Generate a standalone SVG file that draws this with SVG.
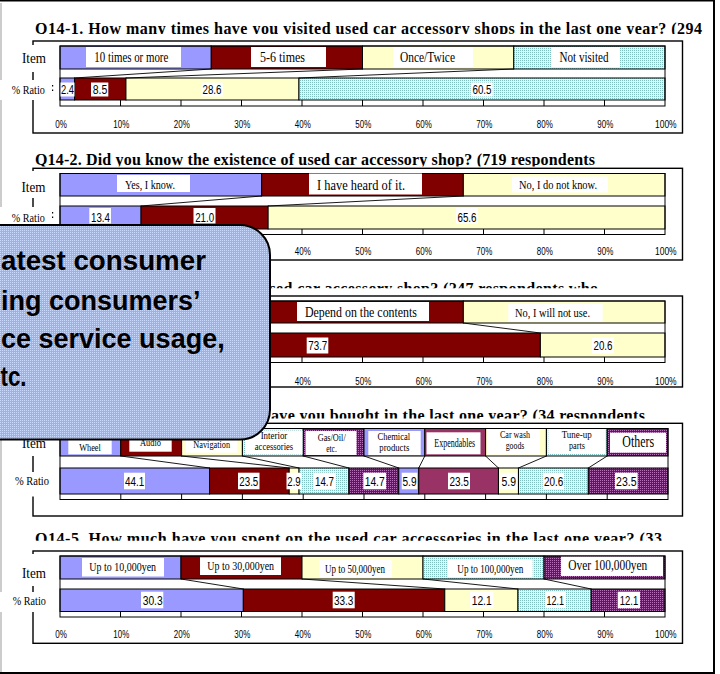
<svg xmlns="http://www.w3.org/2000/svg" width="720" height="674" viewBox="0 0 720 674">
<defs>
<pattern id="pc" width="2" height="2" patternUnits="userSpaceOnUse"><rect width="2" height="2" fill="#CCFFFF"/><rect width="1" height="1" fill="#7FBFBF"/></pattern>
<pattern id="pv" width="2" height="2" patternUnits="userSpaceOnUse"><rect width="2" height="2" fill="#800080"/><rect width="1" height="1" fill="#B870B8"/></pattern>
<pattern id="pb" width="2" height="2" patternUnits="userSpaceOnUse"><rect width="2" height="2" fill="#94B3F7"/><rect width="1" height="1" fill="#C9DAFE"/></pattern>
<clipPath id="c1"><rect x="0" y="0" width="720" height="34"/></clipPath>
<clipPath id="c2"><rect x="0" y="140" width="720" height="26.5"/></clipPath>
<clipPath id="c3"><rect x="0" y="270" width="720" height="18.3"/></clipPath>
<clipPath id="c4"><rect x="0" y="400" width="720" height="18.5"/></clipPath>
<clipPath id="c5"><rect x="0" y="520" width="720" height="20.8"/></clipPath>
</defs>
<style>
.bar{stroke:#000;stroke-width:1}
.b{fill:#9999FF}.r{fill:#800000}.y{fill:#FFFFCC}.p{fill:#993366}.c{fill:url(#pc)}.v{fill:url(#pv)}
.frame{fill:none;stroke:#000;stroke-width:1.4}
.plot{fill:none;stroke:#000;stroke-width:1}
.w{fill:#fff}
.sl{stroke:#000;stroke-width:0.9;fill:none}
.tk{stroke:#000;stroke-width:1}
text{fill:#000}
.t{font-family:"Liberation Serif","Times New Roman",serif;font-weight:bold;font-size:16px}
.s{font-family:"Liberation Serif","Times New Roman",serif;text-anchor:middle}
.n{font-family:"Liberation Sans",Arial,sans-serif;text-anchor:middle;font-size:12.5px}
.ax{font-family:"Liberation Sans",Arial,sans-serif;text-anchor:middle;font-size:11.5px}
.co{font-family:"Liberation Sans",Arial,sans-serif;font-weight:bold;font-size:27px}
</style>

<g id="page">
<line x1="1" y1="3" x2="1" y2="672" stroke="#AAAAAA" stroke-width="1.2"/>
<line x1="0" y1="0.75" x2="715" y2="0.75" stroke="#000" stroke-width="1.5"/>
<line x1="714" y1="0" x2="714" y2="674" stroke="#000" stroke-width="2"/>
<line x1="0" y1="673" x2="715" y2="673" stroke="#000" stroke-width="2"/>
</g>

<!-- Q14-1 -->
<g id="q14-1">
<text class="t" x="35" y="33.5" textLength="667" lengthAdjust="spacing" clip-path="url(#c1)">Q14-1. How many times have you visited used car accessory shops in the last one year? (294</text>
<rect class="frame" x="33" y="41" width="649.5" height="92"/>
<rect class="bar b" x="60" y="46" width="151.25" height="23"/>
<rect class="bar r" x="211.25" y="46" width="151.25" height="23"/>
<rect class="bar y" x="362.5" y="46" width="151.25" height="23"/>
<rect class="bar c" x="513.75" y="46" width="151.25" height="23"/>
<rect class="bar b" x="60" y="78" width="14.52" height="22"/>
<rect class="bar r" x="74.52" y="78" width="51.43" height="22"/>
<rect class="bar y" x="125.95" y="78" width="173.03" height="22"/>
<rect class="bar c" x="298.98" y="78" width="366.02" height="22"/>
<rect class="plot" x="60" y="46" width="605" height="60"/>
<g class="tk"><path d="M120.5 100V106M181 100V106M241.5 100V106M302 100V106M362.5 100V106M423 100V106M483.5 100V106M544 100V106M604.5 100V106"/></g>
<g id="c-q1" class="sl"><line x1="211.25" y1="69" x2="74.52" y2="78"/><line x1="362.5" y1="69" x2="125.95" y2="78"/><line x1="513.75" y1="69" x2="298.98" y2="78"/></g>
<rect class="w" x="86" y="47" width="95" height="20"/><text class="s" x="131.3" y="62" font-size="14" textLength="74" lengthAdjust="spacingAndGlyphs">10 times or more</text>
<rect class="w" x="251" y="47" width="75" height="20"/><text class="s" x="282.5" y="62" font-size="14" textLength="45" lengthAdjust="spacingAndGlyphs">5-6 times</text>
<rect class="w" x="393" y="47" width="80" height="20"/><text class="s" x="427.5" y="62" font-size="14" textLength="55" lengthAdjust="spacingAndGlyphs">Once/Twice</text>
<rect class="w" x="551" y="47" width="69" height="20"/><text class="s" x="584" y="62" font-size="14" textLength="49" lengthAdjust="spacingAndGlyphs">Not visited</text>
<rect class="w" x="60.5" y="82.5" width="14" height="14"/><text class="n" x="67.5" y="94" textLength="13" lengthAdjust="spacingAndGlyphs">2.4</text>
<rect class="w" x="91" y="82.5" width="17.3" height="14"/><text class="n" x="100" y="94" textLength="14.6" lengthAdjust="spacingAndGlyphs">8.5</text>
<rect class="w" x="201" y="82.5" width="21.7" height="14"/><text class="n" x="212" y="94" textLength="19" lengthAdjust="spacingAndGlyphs">28.6</text>
<rect class="w" x="470.7" y="82.5" width="22" height="14"/><text class="n" x="482" y="94" textLength="19" lengthAdjust="spacingAndGlyphs">60.5</text>
<rect class="w" x="20" y="45" width="30" height="27"/><text class="s" x="34" y="63" font-size="15" textLength="24" lengthAdjust="spacingAndGlyphs">Item</text>
<rect class="w" x="0" y="80" width="55" height="20"/><text class="s" x="28.3" y="93.5" font-size="12" textLength="33" lengthAdjust="spacingAndGlyphs">% Ratio</text>
<rect x="52" y="85" width="1.2" height="1.5" fill="#000"/><rect x="52" y="89.5" width="1.2" height="1.5" fill="#000"/>
<g class="ax"><text x="61" y="128" textLength="11.7" lengthAdjust="spacingAndGlyphs">0%</text><text x="121.3" y="128" textLength="16" lengthAdjust="spacingAndGlyphs">10%</text><text x="181.8" y="128" textLength="16" lengthAdjust="spacingAndGlyphs">20%</text><text x="242.3" y="128" textLength="16" lengthAdjust="spacingAndGlyphs">30%</text><text x="302.8" y="128" textLength="16" lengthAdjust="spacingAndGlyphs">40%</text><text x="363.3" y="128" textLength="16" lengthAdjust="spacingAndGlyphs">50%</text><text x="423.8" y="128" textLength="16" lengthAdjust="spacingAndGlyphs">60%</text><text x="484.3" y="128" textLength="16" lengthAdjust="spacingAndGlyphs">70%</text><text x="544.8" y="128" textLength="16" lengthAdjust="spacingAndGlyphs">80%</text><text x="605.3" y="128" textLength="16" lengthAdjust="spacingAndGlyphs">90%</text><text x="665.8" y="128" textLength="21.7" lengthAdjust="spacingAndGlyphs">100%</text></g>
</g>

<!-- Q14-2 -->
<g id="q14-2">
<text class="t" x="35" y="165" textLength="560" lengthAdjust="spacing" clip-path="url(#c2)">Q14-2. Did you know the existence of used car accessory shop? (719 respondents</text>
<rect class="frame" x="33" y="168.3" width="649.5" height="91.7"/>
<rect class="bar b" x="60" y="173.5" width="201.67" height="22.5"/>
<rect class="bar r" x="261.67" y="173.5" width="201.66" height="22.5"/>
<rect class="bar y" x="463.33" y="173.5" width="201.67" height="22.5"/>
<rect class="bar b" x="60" y="206" width="81.07" height="23"/>
<rect class="bar r" x="141.07" y="206" width="127.05" height="23"/>
<rect class="bar y" x="268.12" y="206" width="396.88" height="23"/>
<rect class="plot" x="60" y="173.5" width="605" height="61"/>
<g class="tk"><path d="M120.5 229V234.5M181 229V234.5M241.5 229V234.5M302 229V234.5M362.5 229V234.5M423 229V234.5M483.5 229V234.5M544 229V234.5M604.5 229V234.5"/></g>
<g id="c-q2" class="sl"><line x1="261.67" y1="196" x2="141.07" y2="206"/><line x1="463.33" y1="196" x2="268.12" y2="206"/></g>
<rect class="w" x="117" y="175" width="73" height="17"/><text class="s" x="150" y="188.5" font-size="12.5" textLength="50" lengthAdjust="spacingAndGlyphs">Yes, I know.</text>
<rect class="w" x="309" y="173.5" width="113" height="21"/><text class="s" x="361" y="190" font-size="15" textLength="88" lengthAdjust="spacingAndGlyphs">I have heard of it.</text>
<rect class="w" x="512" y="176.5" width="96" height="16"/><text class="s" x="558" y="188.5" font-size="12.5" textLength="78" lengthAdjust="spacingAndGlyphs">No, I do not know.</text>
<rect class="w" x="89.3" y="208" width="21.7" height="15.5"/><text class="n" x="100.5" y="221.7" textLength="19" lengthAdjust="spacingAndGlyphs">13.4</text>
<rect class="w" x="193.5" y="208" width="22" height="15.5"/><text class="n" x="204.7" y="221.7" textLength="19" lengthAdjust="spacingAndGlyphs">21.0</text>
<rect class="w" x="456" y="208" width="22" height="15.5"/><text class="n" x="467" y="221.7" textLength="19" lengthAdjust="spacingAndGlyphs">65.6</text>
<rect class="w" x="20" y="171" width="30" height="27"/><text class="s" x="33.5" y="191.7" font-size="15" textLength="24" lengthAdjust="spacingAndGlyphs">Item</text>
<rect class="w" x="0" y="207" width="55" height="20"/><text class="s" x="28.3" y="221.7" font-size="12" textLength="33" lengthAdjust="spacingAndGlyphs">% Ratio</text>
<rect x="52" y="212" width="1.2" height="1.5" fill="#000"/><rect x="52" y="216.5" width="1.2" height="1.5" fill="#000"/>
<g class="ax"><text x="302.8" y="255" textLength="16" lengthAdjust="spacingAndGlyphs">40%</text><text x="363.3" y="255" textLength="16" lengthAdjust="spacingAndGlyphs">50%</text><text x="423.8" y="255" textLength="16" lengthAdjust="spacingAndGlyphs">60%</text><text x="484.3" y="255" textLength="16" lengthAdjust="spacingAndGlyphs">70%</text><text x="544.8" y="255" textLength="16" lengthAdjust="spacingAndGlyphs">80%</text><text x="605.3" y="255" textLength="16" lengthAdjust="spacingAndGlyphs">90%</text><text x="665.8" y="255" textLength="21.7" lengthAdjust="spacingAndGlyphs">100%</text></g>
</g>

<!-- Q14-3 -->
<g id="q14-3">
<text class="t" x="269.5" y="294" textLength="328.5" lengthAdjust="spacing" clip-path="url(#c3)">sed car accessory shop? (247 respondents who</text>
<rect class="frame" x="33" y="296" width="649.5" height="91"/>
<rect class="bar b" x="60" y="301" width="201.67" height="22"/>
<rect class="bar r" x="261.67" y="301" width="201.66" height="22"/>
<rect class="bar y" x="463.33" y="301" width="201.67" height="22"/>
<rect class="bar b" x="60" y="333" width="34.49" height="24"/>
<rect class="bar r" x="94.49" y="333" width="445.88" height="24"/>
<rect class="bar y" x="540.37" y="333" width="124.63" height="24"/>
<rect class="plot" x="60" y="301" width="605" height="61.5"/>
<g class="tk"><path d="M120.5 357V362.5M181 357V362.5M241.5 357V362.5M302 357V362.5M362.5 357V362.5M423 357V362.5M483.5 357V362.5M544 357V362.5M604.5 357V362.5"/></g>
<g id="c-q3" class="sl"><line x1="261.67" y1="323" x2="94.49" y2="333"/><line x1="463.33" y1="323" x2="540.37" y2="333"/></g>
<rect class="w" x="297" y="302" width="132" height="19"/><text class="s" x="361" y="317" font-size="14" textLength="112" lengthAdjust="spacingAndGlyphs">Depend on the contents</text>
<rect class="w" x="508.3" y="304" width="94.4" height="17.7"/><text class="s" x="552.5" y="316.5" font-size="12.5" textLength="75" lengthAdjust="spacingAndGlyphs">No, I will not use.</text>
<rect class="w" x="306.7" y="337.5" width="21.6" height="16"/><text class="n" x="317.8" y="350" textLength="19" lengthAdjust="spacingAndGlyphs">73.7</text>
<rect class="w" x="592" y="337.5" width="22" height="16"/><text class="n" x="603" y="350" textLength="19" lengthAdjust="spacingAndGlyphs">20.6</text>
<g class="ax"><text x="302.8" y="385" textLength="16" lengthAdjust="spacingAndGlyphs">40%</text><text x="363.3" y="385" textLength="16" lengthAdjust="spacingAndGlyphs">50%</text><text x="423.8" y="385" textLength="16" lengthAdjust="spacingAndGlyphs">60%</text><text x="484.3" y="385" textLength="16" lengthAdjust="spacingAndGlyphs">70%</text><text x="544.8" y="385" textLength="16" lengthAdjust="spacingAndGlyphs">80%</text><text x="605.3" y="385" textLength="16" lengthAdjust="spacingAndGlyphs">90%</text><text x="665.8" y="385" textLength="21.7" lengthAdjust="spacingAndGlyphs">100%</text></g>
</g>

<!-- Q14-4 -->
<g id="q14-4">
<text class="t" x="271" y="421" textLength="374" lengthAdjust="spacing" clip-path="url(#c4)">ave you bought in the last one year? (34 respondents</text>
<rect class="frame" x="33" y="423.3" width="649.5" height="92.7"/>
<rect class="bar b" x="60" y="428.5" width="60.8" height="27.5"/>
<rect class="bar r" x="120.8" y="428.5" width="60.8" height="27.5"/>
<rect class="bar y" x="181.6" y="428.5" width="60.8" height="27.5"/>
<rect class="bar c" x="242.4" y="428.5" width="60.8" height="27.5"/>
<rect class="bar v" x="303.2" y="428.5" width="60.8" height="27.5"/>
<rect class="bar b" x="364" y="428.5" width="60.8" height="27.5"/>
<rect class="bar p" x="424.8" y="428.5" width="60.8" height="27.5"/>
<rect class="bar y" x="485.6" y="428.5" width="60.8" height="27.5"/>
<rect class="bar c" x="546.4" y="428.5" width="60.8" height="27.5"/>
<rect class="bar v" x="607.2" y="428.5" width="60.8" height="27.5"/>
<rect class="bar b" x="60" y="468" width="149.54" height="26"/>
<rect class="bar r" x="209.54" y="468" width="79.69" height="26"/>
<rect class="bar y" x="289.23" y="468" width="9.84" height="26"/>
<rect class="bar c" x="299.07" y="468" width="49.84" height="26"/>
<rect class="bar v" x="348.91" y="468" width="49.85" height="26"/>
<rect class="bar b" x="398.76" y="468" width="20.01" height="26"/>
<rect class="bar p" x="418.77" y="468" width="79.69" height="26"/>
<rect class="bar y" x="498.46" y="468" width="20" height="26"/>
<rect class="bar c" x="518.46" y="468" width="69.86" height="26"/>
<rect class="bar v" x="588.32" y="468" width="79.68" height="26"/>
<rect class="plot" x="60" y="428.5" width="608" height="71"/>
<g class="tk"><path d="M120.8 494V499.5M181.6 494V499.5M242.4 494V499.5M303.2 494V499.5M364 494V499.5M424.8 494V499.5M485.6 494V499.5M546.4 494V499.5M607.2 494V499.5"/></g>
<g id="c-q4" class="sl"><line x1="120.8" y1="456" x2="209.54" y2="468"/><line x1="181.6" y1="456" x2="289.23" y2="468"/><line x1="242.4" y1="456" x2="299.07" y2="468"/><line x1="303.2" y1="456" x2="348.91" y2="468"/><line x1="364" y1="456" x2="398.76" y2="468"/><line x1="424.8" y1="456" x2="418.77" y2="468"/><line x1="485.6" y1="456" x2="498.46" y2="468"/><line x1="546.4" y1="456" x2="518.46" y2="468"/><line x1="607.2" y1="456" x2="588.32" y2="468"/></g>
<rect class="w" x="68.3" y="433" width="43.4" height="21.3"/><text class="s" x="90" y="450.7" font-size="10" textLength="21.7" lengthAdjust="spacingAndGlyphs">Wheel</text>
<rect class="w" x="129.3" y="433" width="42.4" height="18.7"/><text class="s" x="150.5" y="446" font-size="10" textLength="21" lengthAdjust="spacingAndGlyphs">Audio</text>
<rect class="w" x="186" y="436" width="51.3" height="16.7"/><text class="s" x="211.7" y="448.3" font-size="10" textLength="36.7" lengthAdjust="spacingAndGlyphs">Navigation</text>
<rect class="w" x="245" y="430.5" width="57.5" height="24"/><text class="s" x="274" y="439" font-size="9.5" textLength="26.7" lengthAdjust="spacingAndGlyphs">Interior</text><text class="s" x="274" y="449.5" font-size="9.5" textLength="38.3" lengthAdjust="spacingAndGlyphs">accessories</text>
<rect class="w" x="305.5" y="431" width="51" height="24"/><text class="s" x="331.7" y="440.5" font-size="10" textLength="28" lengthAdjust="spacingAndGlyphs">Gas/Oil/</text><text class="s" x="331.5" y="452" font-size="10" textLength="10.7" lengthAdjust="spacingAndGlyphs">etc.</text>
<rect class="w" x="368.3" y="431" width="52.4" height="24"/><text class="s" x="393.8" y="440" font-size="10" textLength="32.7" lengthAdjust="spacingAndGlyphs">Chemical</text><text class="s" x="394.3" y="451" font-size="10" textLength="30" lengthAdjust="spacingAndGlyphs">products</text>
<rect class="w" x="426.5" y="432.3" width="54" height="22"/><text class="s" x="454.7" y="447" font-size="13" textLength="40.7" lengthAdjust="spacingAndGlyphs">Expendables</text>
<rect class="w" x="487" y="429.5" width="53" height="25"/><text class="s" x="515" y="438.3" font-size="9.5" textLength="30" lengthAdjust="spacingAndGlyphs">Car wash</text><text class="s" x="515" y="449.3" font-size="9.5" textLength="18.7" lengthAdjust="spacingAndGlyphs">goods</text>
<rect class="w" x="548.3" y="429.5" width="56.7" height="24.5"/><text class="s" x="576.7" y="437.7" font-size="9.5" textLength="30" lengthAdjust="spacingAndGlyphs">Tune-up</text><text class="s" x="577" y="449.3" font-size="9.5" textLength="16" lengthAdjust="spacingAndGlyphs">parts</text>
<rect class="w" x="610" y="432.7" width="56" height="20"/><text class="s" x="638.2" y="446.7" font-size="16" textLength="31.7" lengthAdjust="spacingAndGlyphs">Others</text>
<rect class="w" x="124" y="472.7" width="21" height="16.6"/><text class="n" x="134.7" y="486" textLength="19.3" lengthAdjust="spacingAndGlyphs">44.1</text>
<rect class="w" x="238" y="472.7" width="21.5" height="16.6"/><text class="n" x="248.8" y="486" textLength="19" lengthAdjust="spacingAndGlyphs">23.5</text>
<rect class="w" x="286.5" y="472.7" width="15" height="16.6"/><text class="n" x="294" y="486" textLength="13.3" lengthAdjust="spacingAndGlyphs">2.9</text>
<rect class="w" x="313.5" y="472.7" width="22" height="16.6"/><text class="n" x="324.5" y="486" textLength="19" lengthAdjust="spacingAndGlyphs">14.7</text>
<rect class="w" x="363.3" y="472.7" width="22.8" height="16.6"/><text class="n" x="374.7" y="486" textLength="20" lengthAdjust="spacingAndGlyphs">14.7</text>
<rect class="w" x="401.7" y="472.7" width="15.6" height="16.6"/><text class="n" x="409.5" y="486" textLength="14" lengthAdjust="spacingAndGlyphs">5.9</text>
<rect class="w" x="448" y="472.7" width="22" height="16.6"/><text class="n" x="459.2" y="486" textLength="19.5" lengthAdjust="spacingAndGlyphs">23.5</text>
<rect class="w" x="500.3" y="472.7" width="16.7" height="16.6"/><text class="n" x="508.8" y="486" textLength="14.5" lengthAdjust="spacingAndGlyphs">5.9</text>
<rect class="w" x="542.7" y="472.7" width="21.5" height="16.6"/><text class="n" x="553.7" y="486" textLength="19.3" lengthAdjust="spacingAndGlyphs">20.6</text>
<rect class="w" x="615" y="472.7" width="22.7" height="16.6"/><text class="n" x="626.3" y="486" textLength="20.5" lengthAdjust="spacingAndGlyphs">23.5</text>
<rect class="w" x="20" y="430" width="30" height="26"/><text class="s" x="34" y="448" font-size="15" textLength="24" lengthAdjust="spacingAndGlyphs">Item</text>
<rect class="w" x="8" y="472" width="47" height="24.5"/><text class="s" x="32" y="485" font-size="12" textLength="34" lengthAdjust="spacingAndGlyphs">% Ratio</text>
</g>

<!-- Q14-5 -->
<g id="q14-5">
<text class="t" x="35" y="544" textLength="627" lengthAdjust="spacing" clip-path="url(#c5)">Q14-5. How much have you spent on the used car accessories in the last one year? (33</text>
<rect class="frame" x="33" y="551" width="649.5" height="92.3"/>
<rect class="bar b" x="60" y="556" width="121" height="23"/>
<rect class="bar r" x="181" y="556" width="121" height="23"/>
<rect class="bar y" x="302" y="556" width="121" height="23"/>
<rect class="bar c" x="423" y="556" width="121" height="23"/>
<rect class="bar v" x="544" y="556" width="121" height="23"/>
<rect class="bar b" x="60" y="589" width="183.32" height="22.5"/>
<rect class="bar r" x="243.32" y="589" width="201.46" height="22.5"/>
<rect class="bar y" x="444.78" y="589" width="73.21" height="22.5"/>
<rect class="bar c" x="517.99" y="589" width="73.2" height="22.5"/>
<rect class="bar v" x="591.19" y="589" width="73.81" height="22.5"/>
<rect class="plot" x="60" y="556" width="605" height="61"/>
<g class="tk"><path d="M120.5 611.5V617M181 611.5V617M241.5 611.5V617M302 611.5V617M362.5 611.5V617M423 611.5V617M483.5 611.5V617M544 611.5V617M604.5 611.5V617"/></g>
<g id="c-q5" class="sl"><line x1="181" y1="579" x2="243.32" y2="589"/><line x1="302" y1="579" x2="444.78" y2="589"/><line x1="423" y1="579" x2="517.99" y2="589"/><line x1="544" y1="579" x2="591.19" y2="589"/></g>
<rect class="w" x="82" y="558" width="82" height="18.5"/><text class="s" x="122.7" y="570.7" font-size="13" textLength="66.7" lengthAdjust="spacingAndGlyphs">Up to 10,000yen</text>
<rect class="w" x="200" y="557.3" width="81" height="17.7"/><text class="s" x="240.7" y="570" font-size="13" textLength="66.7" lengthAdjust="spacingAndGlyphs">Up to 30,000yen</text>
<rect class="w" x="319.3" y="560" width="72.4" height="17.3"/><text class="s" x="355" y="572.7" font-size="12" textLength="60" lengthAdjust="spacingAndGlyphs">Up to 50,000yen</text>
<rect class="w" x="448" y="560" width="84.7" height="17"/><text class="s" x="490.3" y="572.7" font-size="12" textLength="66" lengthAdjust="spacingAndGlyphs">Up to 100,000yen</text>
<rect class="w" x="561" y="556.7" width="102" height="19.3"/><text class="s" x="607.8" y="570" font-size="15" textLength="79" lengthAdjust="spacingAndGlyphs">Over 100,000yen</text>
<rect class="w" x="141" y="591.7" width="22.3" height="16.6"/><text class="n" x="152.7" y="605" textLength="20" lengthAdjust="spacingAndGlyphs">30.3</text>
<rect class="w" x="332.7" y="591.7" width="22" height="16.6"/><text class="n" x="343.7" y="605" textLength="19.5" lengthAdjust="spacingAndGlyphs">33.3</text>
<rect class="w" x="470" y="591.7" width="23.3" height="16.6"/><text class="n" x="481.7" y="605" textLength="20" lengthAdjust="spacingAndGlyphs">12.1</text>
<rect class="w" x="545" y="591.7" width="20.7" height="16.6"/><text class="n" x="555.3" y="605" textLength="17.5" lengthAdjust="spacingAndGlyphs">12.1</text>
<rect class="w" x="617.7" y="591.7" width="22.3" height="16.6"/><text class="n" x="629" y="605" textLength="18.5" lengthAdjust="spacingAndGlyphs">12.1</text>
<rect class="w" x="20" y="554" width="30" height="32"/><text class="s" x="34" y="578" font-size="15" textLength="24" lengthAdjust="spacingAndGlyphs">Item</text>
<rect class="w" x="0" y="592" width="55" height="20"/><text class="s" x="29.3" y="605" font-size="12" textLength="33" lengthAdjust="spacingAndGlyphs">% Ratio</text>
<g class="ax"><text x="61" y="638" textLength="11.7" lengthAdjust="spacingAndGlyphs">0%</text><text x="121.3" y="638" textLength="16" lengthAdjust="spacingAndGlyphs">10%</text><text x="181.8" y="638" textLength="16" lengthAdjust="spacingAndGlyphs">20%</text><text x="242.3" y="638" textLength="16" lengthAdjust="spacingAndGlyphs">30%</text><text x="302.8" y="638" textLength="16" lengthAdjust="spacingAndGlyphs">40%</text><text x="363.3" y="638" textLength="16" lengthAdjust="spacingAndGlyphs">50%</text><text x="423.8" y="638" textLength="16" lengthAdjust="spacingAndGlyphs">60%</text><text x="484.3" y="638" textLength="16" lengthAdjust="spacingAndGlyphs">70%</text><text x="544.8" y="638" textLength="16" lengthAdjust="spacingAndGlyphs">80%</text><text x="605.3" y="638" textLength="16" lengthAdjust="spacingAndGlyphs">90%</text><text x="665.8" y="638" textLength="21.7" lengthAdjust="spacingAndGlyphs">100%</text></g>
</g>

<!-- Callout -->
<g id="callout">
<rect x="-40" y="225" width="310" height="214.5" rx="30" ry="30" fill="url(#pb)" stroke="#000" stroke-width="2"/>
<text class="co" x="1" y="270" textLength="205" lengthAdjust="spacingAndGlyphs">atest consumer</text>
<text class="co" x="1" y="309.5">ing consumers’</text>
<text class="co" x="1" y="347.7">ce service usage,</text>
<text class="co" x="0.5" y="386" textLength="26" lengthAdjust="spacingAndGlyphs">tc.</text>
</g>
</svg>
